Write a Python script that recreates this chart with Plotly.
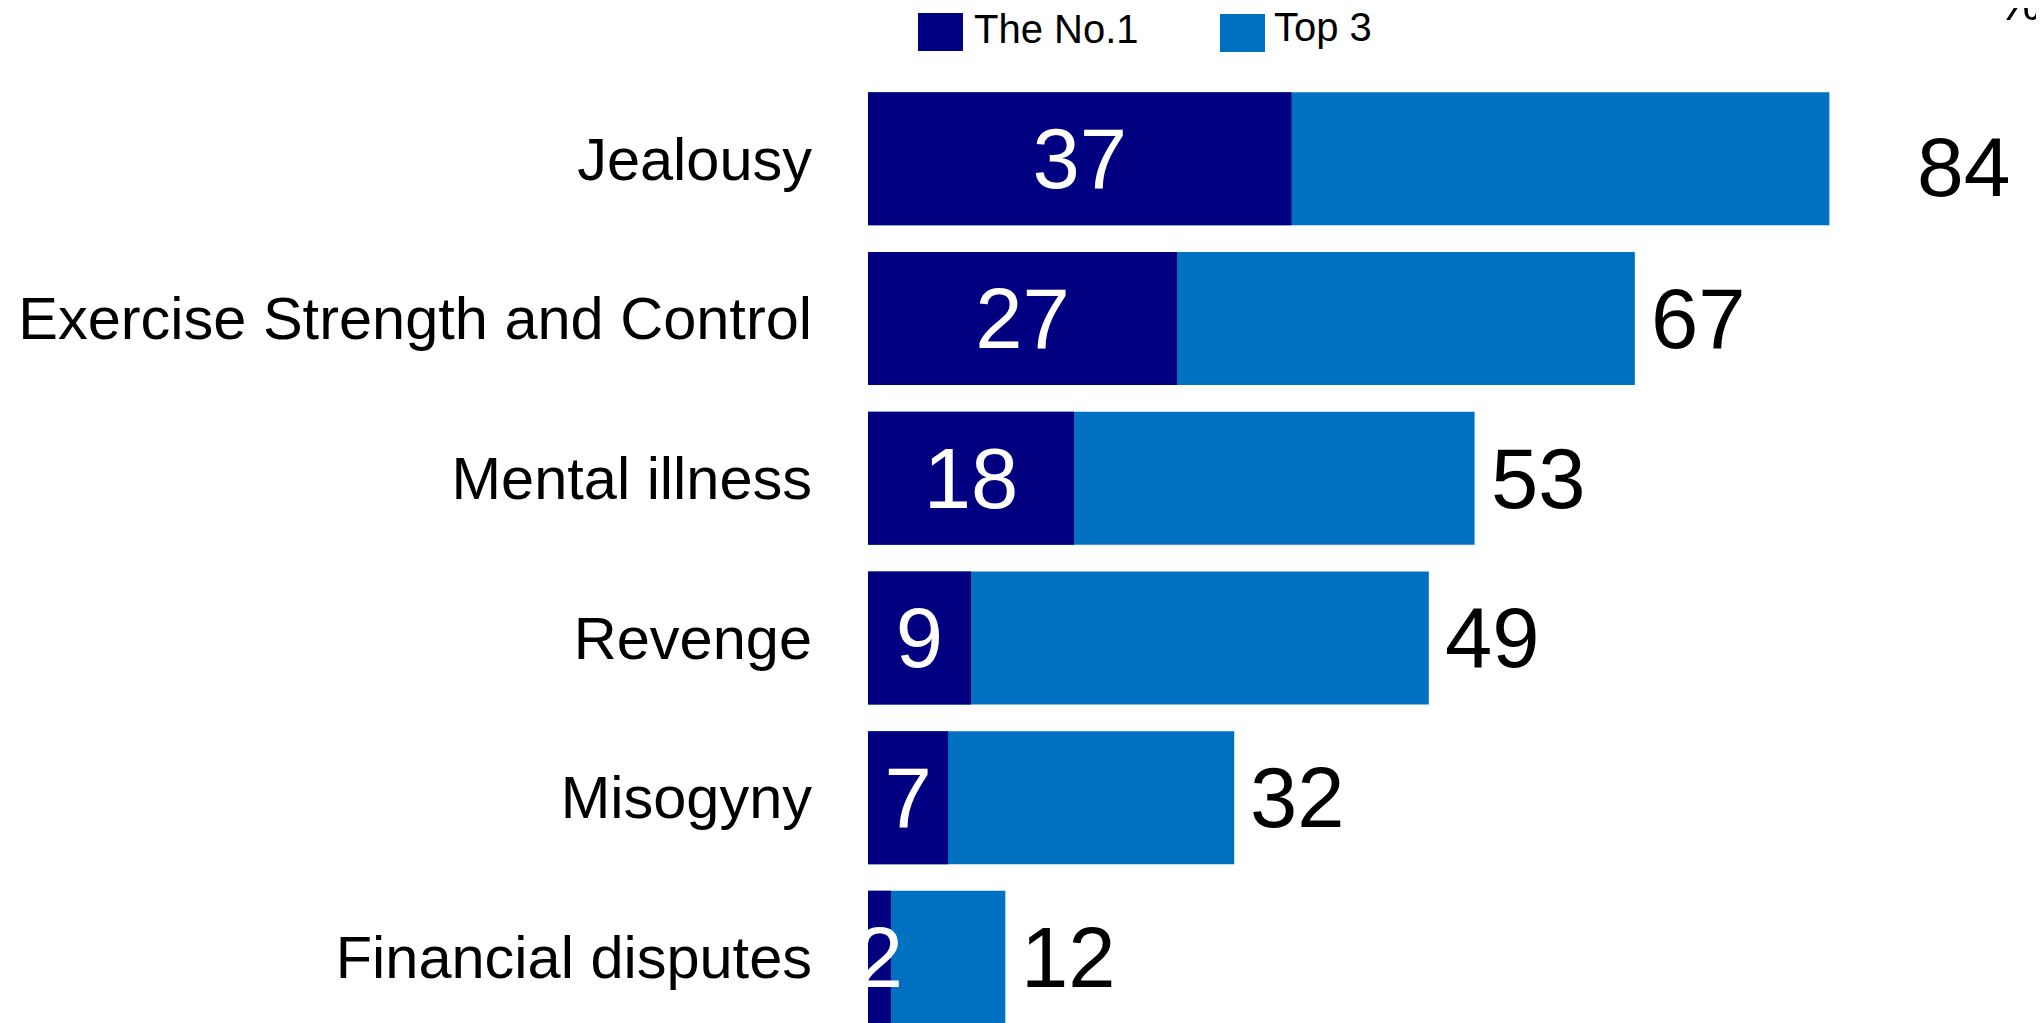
import plotly.graph_objects as go

# ---- data ----
categories = ["Jealousy", "Exercise Strength and Control", "Mental illness",
              "Revenge", "Misogyny", "Financial disputes"]
no1_values = [37, 27, 18, 9, 7, 2]
top3_values = [84, 67, 53, 49, 32, 12]
series_names = ["The No.1", "Top 3"]
unit_label = "%"

# ---- layout constants ----
OFF = 8                      # page body margin of the html output
W, H = 2044, 1023
ML, MR, MT, MB = 868 - OFF, 0, 79 - OFF, 0
PW, PH = W - ML - MR, H - MT - MB
PX_PER_UNIT = 11.445
ROW_PX = 159.7

NAVY = "#000080"
BLUE = "#0070C0"
FONT = "Liberation Sans, Arial, sans-serif"


def px_x(x):
    """screen x pixel -> paper coordinate"""
    return (x - OFF - ML) / PW


def px_y(y):
    """screen y pixel -> paper coordinate"""
    return 1 - (y - OFF - MT) / PH


fig = go.Figure()
fig.add_trace(go.Bar(
    y=categories, x=top3_values, orientation="h", name=series_names[1],
    marker=dict(color=BLUE, line=dict(width=0)), width=0.833,
    showlegend=False, hoverinfo="skip",
))
fig.add_trace(go.Bar(
    y=categories, x=no1_values, orientation="h", name=series_names[0],
    marker=dict(color=NAVY, line=dict(width=0)), width=0.833,
    text=[str(v) for v in no1_values], textposition="inside",
    insidetextanchor="middle", textangle=0, constraintext="none",
    textfont=dict(size=85, color="white", family=FONT),
    cliponaxis=True, showlegend=False, hoverinfo="skip",
))

# outside value labels for Top 3
for i, (c, v) in enumerate(zip(categories, top3_values)):
    xshift, yshift, size = 14, 0, 85
    if i == 0:
        xshift, yshift, size = 86, -8, 84
    fig.add_annotation(
        x=v, y=c, xref="x", yref="y", text=str(v), showarrow=False,
        xanchor="left", yanchor="middle", xshift=xshift, yshift=yshift,
        font=dict(size=size, color="black", family=FONT),
    )

# custom legend (screen pixel boxes)
legend_items = [
    (series_names[0], NAVY, (918, 963, 13, 51), 972, 29),
    (series_names[1], BLUE, (1220, 1265, 14, 52), 1272, 27),
]
for name, col, (x0, x1, y0, y1), tx, ty in legend_items:
    fig.add_shape(type="rect", xref="paper", yref="paper",
                  x0=px_x(x0), x1=px_x(x1), y0=px_y(y1), y1=px_y(y0),
                  fillcolor=col, line=dict(width=0))
    fig.add_annotation(x=px_x(tx), y=px_y(ty), xref="paper", yref="paper",
                       text=name, showarrow=False, xanchor="left",
                       yanchor="middle",
                       font=dict(size=40, color="black", family=FONT))

# unit label (mostly cut off at top right, as in the original)
fig.add_annotation(x=px_x(1995), y=px_y(3), xref="paper", yref="paper",
                   text=unit_label, showarrow=False, xanchor="left",
                   yanchor="middle",
                   font=dict(size=50, color="black", family=FONT))

fig.update_layout(
    width=W, height=H, barmode="overlay",
    margin=dict(l=ML, r=MR, t=MT, b=MB, pad=0),
    plot_bgcolor="white", paper_bgcolor="white",
    showlegend=False,
    xaxis=dict(range=[0, PW / PX_PER_UNIT], visible=False, fixedrange=True),
    yaxis=dict(type="category", range=[-0.5 + PH / ROW_PX, -0.5],
               showgrid=False, zeroline=False, showline=False, ticks="",
               automargin=False, ticklabelstandoff=55,
               tickfont=dict(size=59.5, color="black", family=FONT)),
)

fig.write_html("out.html")
